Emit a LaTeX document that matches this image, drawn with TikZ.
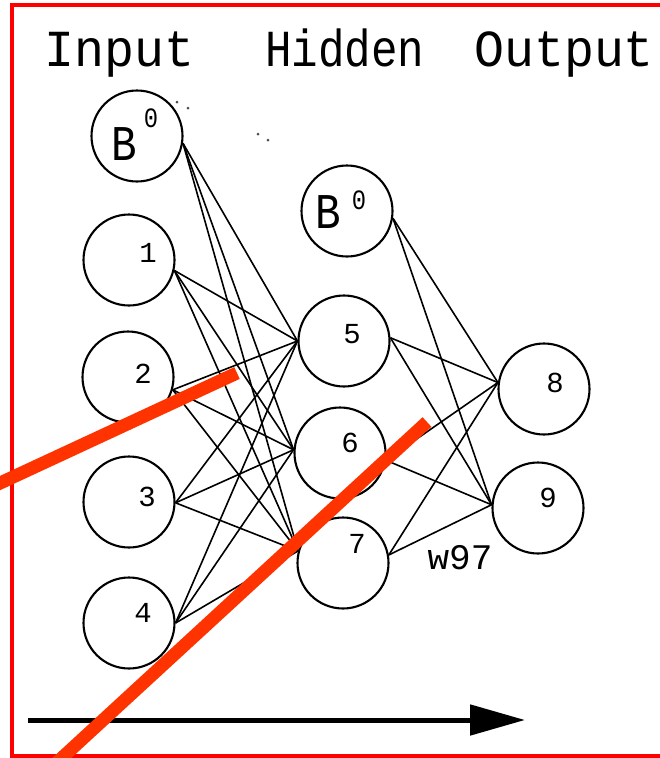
\documentclass[tikz,border=0pt]{standalone}
\usepackage{fontspec}
\newfontfamily\tfont[FakeStretch=0.85]{Liberation Mono}
\newfontfamily\wfont[FakeStretch=0.96]{Liberation Mono}
\newfontfamily\mfont{Liberation Mono}
\usetikzlibrary{arrows.meta}
\definecolor{slashred}{RGB}{255,51,0}
\begin{document}
\begin{tikzpicture}[x=1pt,y=-1pt,
  neuron/.style={circle,draw=black,line width=2.1pt,minimum size=91pt,inner sep=0pt},
  wire/.style={draw=black,line width=1.6pt},
  num/.style={font=\mfont\fontsize{29}{29}\selectfont,inner sep=0pt},
  bigb/.style={font=\tfont\fontsize{50}{50}\selectfont,inner sep=0pt},
  supz/.style={font=\tfont\fontsize{28}{28}\selectfont,inner sep=0pt},
  title/.style={font=\tfont\fontsize{52}{52}\selectfont,inner sep=0pt,anchor=base west},
  wtitle/.style={title,font=\wfont\fontsize{52}{52}\selectfont},
  slash/.style={draw=slashred,line width=13pt},
  frame/.style={draw=red,line width=4pt}]
\useasboundingbox (0,0) rectangle (660,758);
\clip (0,0) rectangle (660,758);
\fill[white] (0,0) rectangle (660,758);
% titles
\node[wtitle] (tin) at (44,66) {Input};
\node[title] (thid) at (265,66) {Hidden};
\node[wtitle] (tout) at (474,66) {Output};
% neurons
\node[neuron] (i0) at (137,136) {};
\node[neuron] (i1) at (129,260) {};
\node[neuron] (i2) at (128,377) {};
\node[neuron] (i3) at (129,502) {};
\node[neuron] (i4) at (129,623) {};
\node[neuron] (hb) at (347,211) {};
\node[neuron] (h5) at (344,341) {};
\node[neuron] (h6) at (340,453) {};
\node[neuron] (h7) at (343,563) {};
\node[neuron] (o8) at (544,389) {};
\node[neuron] (o9) at (538,508) {};
% labels
\node[bigb] (bi) at (124,144) {B};
\node[supz] (zi) at (151,118) {0};
\node[bigb] (bh) at (328,212) {B};
\node[supz] (zh) at (359,200) {0};
\node[num] (l1) at (148,253) {1};
\node[num] (l2) at (143,374) {2};
\node[num] (l3) at (147,497) {3};
\node[num] (l4) at (143,613) {4};
\node[num] (l5) at (352,334) {5};
\node[num] (l6) at (350,443) {6};
\node[num] (l7) at (357,544) {7};
\node[num] (l8) at (555,383) {8};
\node[num] (l9) at (548,498) {9};
\node[font=\mfont\fontsize{36}{36}\selectfont,inner sep=0pt] (w97) at (460,558) {w97};
% wires
\foreach \s/\a in {i0/-9,i1/-13,i2/-16,i3/-1,i4/0}
  \foreach \t/\b in {h5/180,h6/176,h7/165}
    \draw[wire] (\s.\a) -- (\t.\b);
\foreach \s/\a in {hb/-9,h5/4,h6/-9,h7/10}
  \foreach \t/\b in {o8/172,o9/176}
    \draw[wire] (\s.\a) -- (\t.\b);
% stray dots
\fill[black!70] (177,102) circle (1.5pt) (188,108) circle (1.5pt)
  (258,134) circle (1.5pt) (268,140) circle (1.5pt);
% bottom arrow
\coordinate (as) at (28,720);
\coordinate (ae) at (525,720);
\draw[line width=5pt,-{Triangle[length=55pt,width=30pt]}] (as) -- (ae);
% frame
\draw[frame] (680,5) -- (12,5) -- (12,756) -- (680,756);
% slashes
\coordinate (s1a) at (237,373);
\coordinate (s1b) at (-30,497);
\coordinate (s2a) at (427,422);
\coordinate (s2b) at (40,778);
\draw[slash] (s1a) -- (s1b);
\draw[slash] (s2a) -- (s2b);
\end{tikzpicture}
\end{document}
